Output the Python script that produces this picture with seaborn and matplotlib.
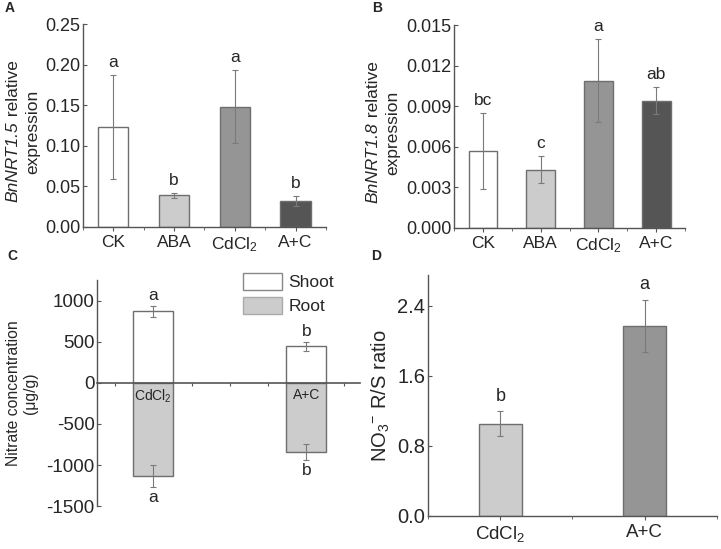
import numpy as np
import pandas as pd
import matplotlib.pyplot as plt
import seaborn as sns
from matplotlib.patches import Patch
from matplotlib.ticker import MultipleLocator

# -----------------------------
# DATA
# -----------------------------

treatments = ["CK", "ABA", "CdCl$_2$", "A+C"]

nrt15_mean = [0.123, 0.039, 0.148, 0.032]
nrt15_err = [0.064, 0.003, 0.045, 0.006]
nrt15_letters = ["a", "b", "a", "b"]

nrt18_mean = [0.0057, 0.0043, 0.0109, 0.0094]
nrt18_err = [0.0028, 0.0010, 0.0031, 0.0010]
nrt18_letters = ["bc", "c", "a", "ab"]

cd_groups = ["CdCl$_2$", "A+C"]
shoot_mean = [870, 443]
shoot_err = [65, 55]
shoot_letters = ["a", "b"]
root_mean = [-1130, -838]
root_err = [135, 95]
root_letters = ["a", "b"]

ratio_mean = [1.05, 2.17]
ratio_err = [0.14, 0.30]
ratio_letters = ["b", "a"]

bar_colors = ["#ffffff", "#cccccc", "#959595", "#555555"]
edge = "#6e6e6e"
spine_col = "#555555"

# -----------------------------
# STYLE
# -----------------------------

sns.set_style("ticks")
plt.rcParams["font.family"] = ["Liberation Sans", "DejaVu Sans"]
plt.rcParams["mathtext.fontset"] = "custom"
plt.rcParams["mathtext.rm"] = "Liberation Sans"
plt.rcParams["mathtext.it"] = "Liberation Sans:italic"
plt.rcParams["mathtext.bf"] = "Liberation Sans:bold"
plt.rcParams["axes.unicode_minus"] = False

fig = plt.figure(figsize=(7.21, 5.49), dpi=100)

ax_a = fig.add_axes([0.115, 0.587, 0.337, 0.369])
ax_b = fig.add_axes([0.630, 0.585, 0.320, 0.369])
ax_c = fig.add_axes([0.135, 0.078, 0.364, 0.412])
ax_d = fig.add_axes([0.594, 0.061, 0.400, 0.438])


def style_axes(ax, ysize=13, xsize=12.5):
    sns.despine(ax=ax)
    for s in ["left", "bottom"]:
        ax.spines[s].set_color(spine_col)
        ax.spines[s].set_linewidth(1.0)
    ax.tick_params(axis="y", direction="in", length=3, color=spine_col,
                   labelsize=ysize, pad=2)
    ax.tick_params(axis="x", direction="out", length=3, color=spine_col,
                   labelsize=xsize, pad=3)
    ax.tick_params(axis="x", which="minor", direction="out", length=2,
                   color=spine_col)


def gene_label(gene, x_px, y_px):
    # italic gene name followed by upright text, rotated, plus second line
    fs = 12.5
    t1 = fig.text(0, 0, gene, rotation=90, fontsize=fs, style="italic",
                  ha="center", va="bottom")
    t2 = fig.text(0, 0, " relative", rotation=90, fontsize=fs,
                  ha="center", va="bottom")
    fig.canvas.draw()
    r = fig.canvas.get_renderer()
    h1 = t1.get_window_extent(r).height
    h2 = t2.get_window_extent(r).height
    y0 = (549 - y_px) - (h1 + h2) / 2
    t1.set_position((x_px / 721, y0 / 549))
    t2.set_position((x_px / 721, (y0 + h1) / 549))
    fig.text((x_px + 20) / 721, 1 - (y_px + 1) / 549, "expression",
             rotation=90, fontsize=fs, ha="center", va="center")


def expression_panel(ax, means, errs, letters, ylim, step, fmt):
    df = pd.DataFrame({"treatment": treatments, "value": means})
    sns.barplot(data=df, x="treatment", y="value", hue="treatment",
                palette=bar_colors, edgecolor=edge, linewidth=1.0,
                width=0.5, legend=False, ax=ax, errorbar=None)
    x = np.arange(len(means))
    ax.errorbar(x, means, yerr=errs, fmt="none", ecolor="#7a7a7a",
                elinewidth=0.8, capsize=2.5, capthick=0.8)
    for xi, m, e, t in zip(x, means, errs, letters):
        ax.text(xi, m + e + (ylim[1]) * 0.025, t, ha="center", va="bottom",
                fontsize=12.5)
    ax.set_xlim(-0.5, 3.5)
    ax.set_ylim(*ylim)
    ax.yaxis.set_major_locator(MultipleLocator(step))
    ax.yaxis.set_major_formatter(plt.FormatStrFormatter(fmt))
    ax.xaxis.set_minor_locator(MultipleLocator(0.5))
    ax.set_xlabel("")
    ax.set_ylabel("")
    style_axes(ax)


expression_panel(ax_a, nrt15_mean, nrt15_err, nrt15_letters,
                 (0, 0.25), 0.05, "%.2f")
expression_panel(ax_b, nrt18_mean, nrt18_err, nrt18_letters,
                 (0, 0.015), 0.003, "%.3f")

# -----------------------------
# PANEL C — shoot / root nitrate
# -----------------------------

df_c = pd.DataFrame({"group": cd_groups, "shoot": shoot_mean, "root": root_mean})
sns.barplot(data=df_c, x="group", y="shoot", color="#ffffff", edgecolor=edge,
            linewidth=1.0, width=0.26, ax=ax_c, errorbar=None)
sns.barplot(data=df_c, x="group", y="root", color="#cccccc", edgecolor=edge,
            linewidth=1.0, width=0.26, ax=ax_c, errorbar=None)
xc = np.arange(len(cd_groups))
ax_c.errorbar(xc, shoot_mean, yerr=shoot_err, fmt="none", ecolor="#7a7a7a",
              elinewidth=0.8, capsize=2.5, capthick=0.8)
ax_c.errorbar(xc, root_mean, yerr=root_err, fmt="none", ecolor="#7a7a7a",
              elinewidth=0.8, capsize=2.5, capthick=0.8)
for xi, m, e, t in zip(xc, shoot_mean, shoot_err, shoot_letters):
    ax_c.text(xi, m + e + 40, t, ha="center", va="bottom", fontsize=12.5)
for xi, m, e, t in zip(xc, root_mean, root_err, root_letters):
    ax_c.text(xi, m - e - 40, t, ha="center", va="top", fontsize=12.5)
for xi, g in zip(xc, cd_groups):
    ax_c.text(xi, -60, g, ha="center", va="top", fontsize=10)

ax_c.set_xlim(-0.366, 1.35)
ax_c.set_ylim(-1500, 1250)
ax_c.yaxis.set_major_locator(MultipleLocator(500))
ax_c.xaxis.set_major_locator(MultipleLocator(0.25))
ax_c.set_xticklabels([])
ax_c.set_xlabel("")
ax_c.set_ylabel("Nitrate concentration\n(\u03bcg/g)", fontsize=11.3,
                linespacing=1.15, labelpad=6)
style_axes(ax_c, ysize=13.5)
ax_c.spines["bottom"].set_position(("data", 0))
ax_c.spines["bottom"].set_linewidth(1.2)
ax_c.tick_params(axis="x", length=2.5)

ax_c.legend(handles=[Patch(facecolor="#ffffff", edgecolor="#888888", label="Shoot"),
                     Patch(facecolor="#cccccc", edgecolor="#aaaaaa", label="Root")],
            loc="upper left", bbox_to_anchor=(0.497, 1.10), frameon=False,
            fontsize=12.5, handlelength=2.2, handleheight=1.1,
            handletextpad=0.4, labelspacing=0.4)

# -----------------------------
# PANEL D — root/shoot ratio
# -----------------------------

df_d = pd.DataFrame({"group": cd_groups, "ratio": ratio_mean})
sns.barplot(data=df_d, x="group", y="ratio", hue="group",
            palette=["#cccccc", "#959595"], edgecolor=edge, linewidth=1.0,
            width=0.3, legend=False, ax=ax_d, errorbar=None)
xd = np.arange(len(cd_groups))
ax_d.errorbar(xd, ratio_mean, yerr=ratio_err, fmt="none", ecolor="#7a7a7a",
              elinewidth=0.8, capsize=2.5, capthick=0.8)
for xi, m, e, t in zip(xd, ratio_mean, ratio_err, ratio_letters):
    ax_d.text(xi, m + e + 0.07, t, ha="center", va="bottom", fontsize=13)
ax_d.set_xlim(-0.5, 1.5)
ax_d.set_ylim(0, 2.75)
ax_d.yaxis.set_major_locator(MultipleLocator(0.8))
ax_d.yaxis.set_major_formatter(plt.FormatStrFormatter("%.1f"))
ax_d.xaxis.set_minor_locator(MultipleLocator(0.5))
ax_d.set_xlabel("")
ax_d.set_ylabel(r"NO$_3$$^{-}$ R/S ratio", fontsize=14.5, labelpad=4)
style_axes(ax_d, ysize=14.5, xsize=13.5)

# y labels for the expression panels
gene_label("BnNRT1.5", 13, 131)
gene_label("BnNRT1.8", 373, 132)

# panel letters
for lab, (px, py) in zip("ABCD", [(10, 8), (377, 8), (12, 256), (376, 256)]):
    fig.text(px / 721, 1 - py / 549, lab, fontsize=10, fontweight="bold",
             ha="center", va="center")

plt.savefig("out.png", dpi=100)
